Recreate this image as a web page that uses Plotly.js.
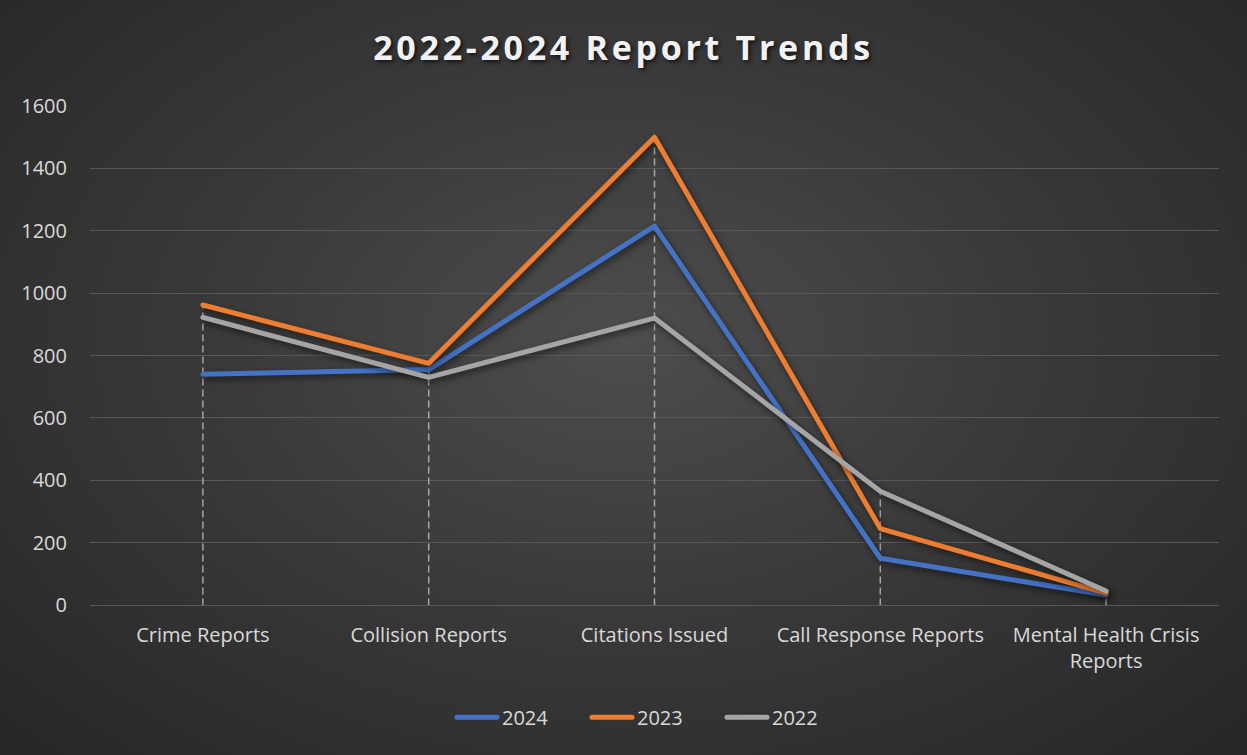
<!DOCTYPE html>
<html>
<head>
<meta charset="utf-8">
<script src="https://cdn.plot.ly/plotly-3.0.1.min.js"></script>
<style>
  html, body { margin: 0; padding: 0; }
  body { width: 1247px; height: 755px; overflow: hidden;
    background: radial-gradient(ellipse at 50% 45%, #4d4d4d 0%, #3a3a3a 45%, #262626 100%); }
  #chart { width: 1247px; height: 755px; }
  .scatterlayer .trace path.js-line { stroke-linejoin: round; stroke-linecap: round; }
  .legendlines path { stroke-linecap: round; }
  .gtitle { letter-spacing: 3.7px; }
  .scatterlayer .trace:not(:first-child) { filter: drop-shadow(2px 3px 3px rgba(0,0,0,0.55)); }
</style>
</head>
<body>
<div id="chart"></div>
<script>
const categories = ["Crime Reports", "Collision Reports", "Citations Issued", "Call Response Reports", "Mental Health Crisis<br>Reports"];
const values2024 = [740, 755, 1215, 150, 32];
const values2023 = [962, 775, 1500, 245, 38];
const values2022 = [922, 730, 920, 365, 45];
const seriesNames = ["2024", "2023", "2022"];
const seriesColors = ["#4472C4", "#ED7D31", "#A5A5A5"];

// drop lines: from the highest value at each category down to zero
const dropX = [], dropY = [];
categories.forEach((c, i) => {
  const m = Math.max(values2024[i], values2023[i], values2022[i]);
  dropX.push(c, c, null);
  dropY.push(0, m, null);
});

const traces = [
  { x: dropX, y: dropY, mode: "lines", showlegend: false, hoverinfo: "skip",
    line: { color: "rgba(200,200,200,0.75)", width: 1.5, dash: "6px,5px" } }
];
[values2024, values2023, values2022].forEach((vals, k) => {
  traces.push({ x: categories, y: vals, name: seriesNames[k], mode: "lines",
    line: { color: seriesColors[k], width: 5 } });
});

const tickFont = { size: 20, color: "#d9d9d9", family: "Open Sans, sans-serif" };
const layout = {
  width: 1247, height: 755,
  paper_bgcolor: "rgba(0,0,0,0)", plot_bgcolor: "rgba(0,0,0,0)",
  margin: { l: 90, r: 28, t: 106, b: 150 },
  title: { text: "<b>2022-2024 Report Trends</b>", x: 0.5, xanchor: "center", y: 0.936, yanchor: "middle",
    font: { family: "Open Sans, sans-serif", size: 34, color: "#f2f2f2", shadow: "2px 2px 4px rgba(0,0,0,0.7)" } },
  font: { family: "Open Sans, sans-serif", color: "#d9d9d9" },
  xaxis: { type: "category", range: [-0.5, 4.5], showgrid: false, zeroline: false, showline: false,
    ticks: "", tickfont: tickFont, ticklabelstandoff: 16 },
  yaxis: { range: [0, 1600], dtick: 200, showgrid: true, gridcolor: "#585858", gridwidth: 1,
    zeroline: true, zerolinecolor: "#585858", zerolinewidth: 1, showline: false, ticks: "",
    tickfont: tickFont, ticklabelstandoff: 22 },
  legend: { orientation: "h", x: 0.5, xanchor: "center", y: -0.225, yanchor: "middle",
    font: { size: 20, color: "#d9d9d9" }, itemwidth: 40, entrywidth: 80, traceorder: "normal" },
  showlegend: true
};

Plotly.newPlot("chart", traces, layout, { displayModeBar: false, staticPlot: true });
</script>
</body>
</html>
